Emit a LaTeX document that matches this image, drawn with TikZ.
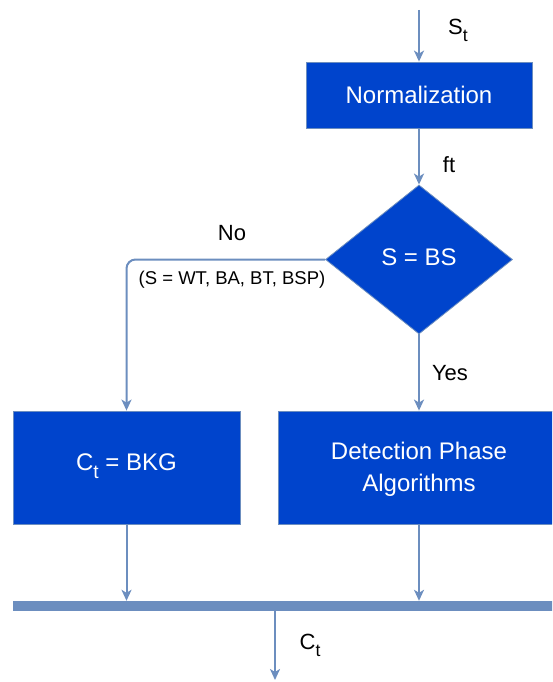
\documentclass[tikz,border=0pt]{standalone}
\usepackage{fontspec}
\setmainfont{Liberation Sans}
\usetikzlibrary{shapes.geometric,arrows.meta}
\definecolor{boxblue}{HTML}{0044CC}
\definecolor{edgeblue}{HTML}{6C8EBF}
% lowered subscript letter set in the text font
\newcommand{\lowsub}[1]{\raisebox{-0.32em}{\scalebox{0.8}{#1}}}
\tikzset{
  procbox/.style={rectangle, fill=boxblue, draw=edgeblue, line width=0.8pt, text=white, font=\fontsize{24}{32}\selectfont, align=center, inner sep=0pt},
  decbox/.style={diamond, fill=boxblue, draw=edgeblue, line width=0.8pt, text=white, font=\fontsize{24}{32}\selectfont, inner sep=0pt},
  boxtext/.style={text=white, font=\fontsize{24}{32}\selectfont, align=center, inner sep=0pt},
  flow/.style={draw=edgeblue, line width=2pt, -{Stealth[length=11pt,width=10pt,inset=3pt]}},
  lbl/.style={font=\fontsize{22}{26}\selectfont, text=black, inner sep=0pt},
  smalllbl/.style={font=\fontsize{18.5}{22}\selectfont, text=black, inner sep=0pt}
}
\begin{document}
\begin{tikzpicture}[x=1pt,y=-1pt]
\useasboundingbox (0,0) rectangle (552,682);
\clip (0,0) rectangle (552,682);
% input and normalization
\coordinate (in) at (419,10);
\node[procbox, minimum width=226pt, minimum height=66pt] (norm) at (419,95) {Normalization};
\node[decbox, minimum width=187pt, minimum height=149pt] (dec) at (419,259.5) {};
\node[boxtext] (dectext) at (419,257) {S = BS};
% result boxes
\node[procbox, minimum width=227pt, minimum height=113pt] (bkg) at (126.5,467.5) {};
\node[boxtext] (bkgtext) at (126.5,466) {C\lowsub{t} = BKG};
\node[procbox, minimum width=282pt, minimum height=113pt] (det) at (419,467.5) {};
\node[boxtext] (dettext) at (419,469) {Detection Phase\\Algorithms};
% merging bar
\node[rectangle, fill=edgeblue, inner sep=0pt, minimum width=560pt, minimum height=10pt, anchor=west] (bar) at (13,606) {};
\coordinate (out) at (275,680);
% connectors
\draw[flow] (in) -- (norm.north);
\draw[flow] (norm.south) -- (dec.north);
\draw[flow] (dec.south) -- (det.north);
\draw[flow, rounded corners=9pt] (dec.west) -- (bkg.north |- dec.west) -- (bkg.north);
\draw[flow] (bkg.south) -- (bkg.south |- bar.north);
\draw[flow] (det.south) -- (det.south |- bar.north);
\draw[flow] (bar.south -| out) -- (out);
% labels
\node[lbl] (lst) at (458,30) {S\lowsub{t}};
\node[lbl] (lft) at (449,165) {ft};
\node[lbl] (lno) at (232,233) {No};
\node[smalllbl] (lset) at (232,280) {(S = WT, BA, BT, BSP)};
\node[lbl] (lyes) at (450,373) {Yes};
\node[lbl] (lct) at (310,645) {C\lowsub{t}};
\end{tikzpicture}
\end{document}
